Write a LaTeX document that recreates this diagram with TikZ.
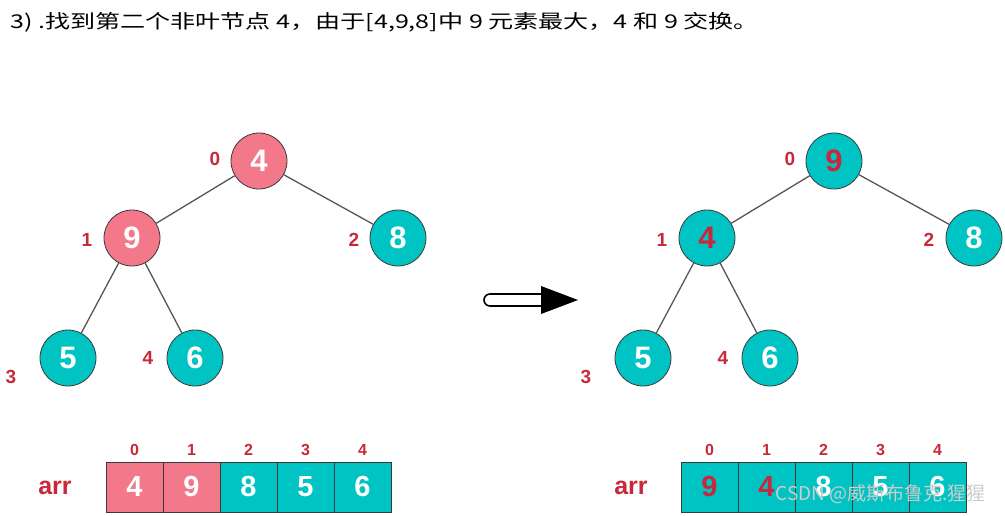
\documentclass[tikz,border=0pt]{standalone}
\usepackage{fontspec}
\setmainfont{Liberation Sans}
\newfontfamily\cjkfont{Noto Sans CJK SC}
\usetikzlibrary{positioning}
\definecolor{HeapPink}{HTML}{F2788A}
\definecolor{HeapTeal}{HTML}{00C4C4}
\definecolor{HeapRed}{HTML}{C8283A}
\definecolor{HeapEdge}{HTML}{555555}
\definecolor{HeapLine}{HTML}{3A3A3A}

\begin{document}
\begin{tikzpicture}[x=1pt,y=-1pt,>=stealth]
  \useasboundingbox (0,0) rectangle (1005,515);
  \tikzstyle{key}=[circle,draw=HeapLine,line width=0.8pt,minimum size=56pt,
    inner sep=0pt,text=white,font=\fontsize{31}{31}\selectfont\bfseries]
  \tikzstyle{hot}=[key,fill=HeapPink]
  \tikzstyle{cold}=[key,fill=HeapTeal]
  \tikzstyle{idx}=[text=HeapRed,font=\fontsize{19}{19}\selectfont\bfseries]
  \tikzstyle{slot}=[text=HeapRed,font=\fontsize{16}{16}\selectfont\bfseries]
  \tikzstyle{cell}=[draw=HeapLine,line width=0.8pt,minimum width=57pt,
    minimum height=50pt,inner sep=0pt,outer sep=0pt,text=white,
    font=\fontsize{29}{29}\selectfont\bfseries]
  \tikzstyle{edge}=[draw=HeapEdge,line width=1.3pt]
  \tikzstyle{arrname}=[text=HeapRed,font=\fontsize{25}{25}\selectfont\bfseries]

  \node[anchor=west,inner sep=0pt,font=\cjkfont\fontsize{19}{19}\selectfont] (title) at (10,22)
    {\scalebox{1.32}[1]{3)~.找到第二个非叶节点 4，由于[4,9,8]中 9 元素最大，4 和 9 交换。}};

  % before the swap
  \node[hot] (l0) at (259,161) {4};
  \node[hot] (l1) at (132,238) {9};
  \node[cold] (l2) at (398,238) {8};
  \node[cold] (l3) at (68,358) {5};
  \node[cold] (l4) at (195,358) {6};
  \draw[edge] (l0)--(l1);
  \draw[edge] (l0)--(l2);
  \draw[edge] (l1)--(l3);
  \draw[edge] (l1)--(l4);
  \node[idx] (li0) at (215,159) {0};
  \node[idx] (li1) at (87,240) {1};
  \node[idx] (li2) at (354,240) {2};
  \node[idx] (li3) at (11,377) {3};
  \node[idx] (li4) at (148,358) {4};

  \node[arrname] (larr) at (55,488) {arr};
  \node[cell,fill=HeapPink] (la0) at (134.5,487) {4};
  \node[cell,fill=HeapPink,right=0pt of la0] (la1) {9};
  \node[cell,fill=HeapTeal,right=0pt of la1] (la2) {8};
  \node[cell,fill=HeapTeal,right=0pt of la2] (la3) {5};
  \node[cell,fill=HeapTeal,right=0pt of la3] (la4) {6};
  \node[slot,above=3pt of la0] {0};
  \node[slot,above=3pt of la1] {1};
  \node[slot,above=3pt of la2] {2};
  \node[slot,above=3pt of la3] {3};
  \node[slot,above=3pt of la4] {4};

  % swap arrow
  \draw[line width=1.6pt,rounded corners=6pt] (544,294) -- (484,294) -- (484,306) -- (544,306);
  \fill (541,286) -- (578,300) -- (541,314) -- cycle;

  % after the swap
  \node[cold,text=HeapRed] (r0) at (834,161) {9};
  \node[cold,text=HeapRed] (r1) at (707,238) {4};
  \node[cold] (r2) at (974,238) {8};
  \node[cold] (r3) at (643,358) {5};
  \node[cold] (r4) at (770,358) {6};
  \draw[edge] (r0)--(r1);
  \draw[edge] (r0)--(r2);
  \draw[edge] (r1)--(r3);
  \draw[edge] (r1)--(r4);
  \node[idx] (ri0) at (790,159) {0};
  \node[idx] (ri1) at (662,240) {1};
  \node[idx] (ri2) at (929,240) {2};
  \node[idx] (ri3) at (586,377) {3};
  \node[idx] (ri4) at (723,358) {4};

  \node[arrname] (rarr) at (631,488) {arr};
  \node[cell,fill=HeapTeal,text=HeapRed] (ra0) at (709.5,487) {9};
  \node[cell,fill=HeapTeal,text=HeapRed,right=0pt of ra0] (ra1) {4};
  \node[cell,fill=HeapTeal,right=0pt of ra1] (ra2) {8};
  \node[cell,fill=HeapTeal,right=0pt of ra2] (ra3) {5};
  \node[cell,fill=HeapTeal,right=0pt of ra3] (ra4) {6};
  \node[slot,above=3pt of ra0] {0};
  \node[slot,above=3pt of ra1] {1};
  \node[slot,above=3pt of ra2] {2};
  \node[slot,above=3pt of ra3] {3};
  \node[slot,above=3pt of ra4] {4};

  \node[anchor=west,text=white!80!black,font=\cjkfont\fontsize{19}{19}\selectfont]
    (mark) at (772,494) {CSDN @威斯布鲁克.猩猩};
\end{tikzpicture}
\end{document}
